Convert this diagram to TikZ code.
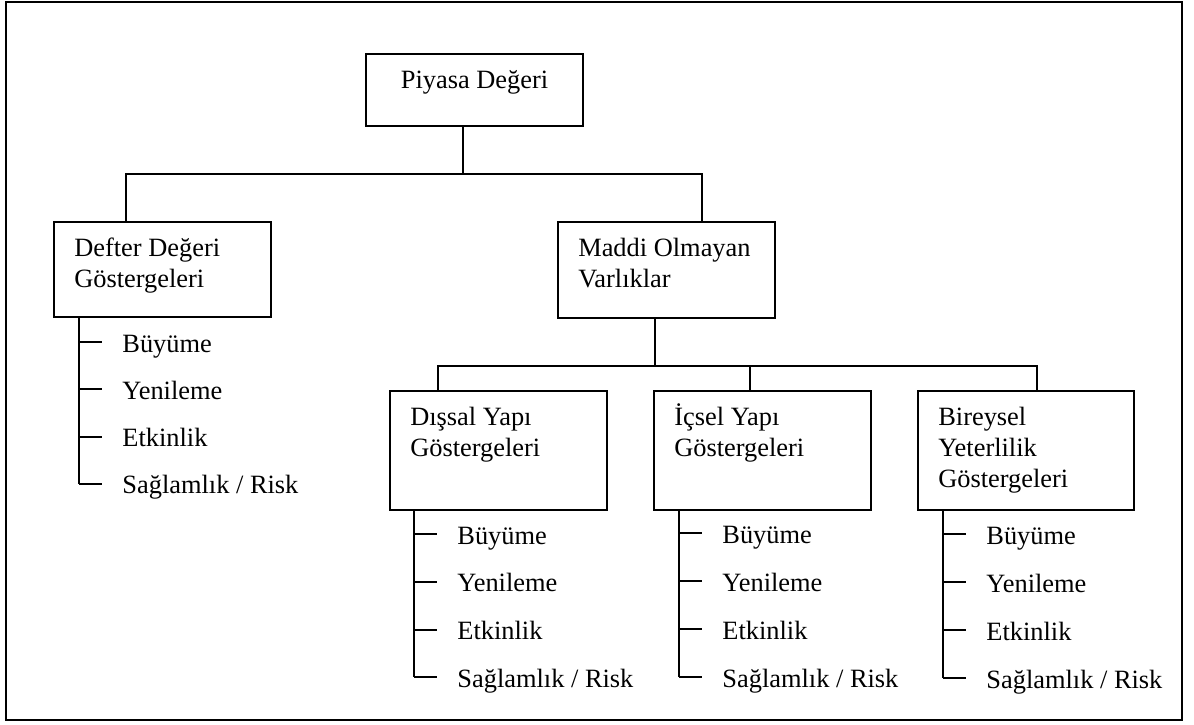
\documentclass[tikz,border=0pt]{standalone}
\usepackage{fontspec}
\setmainfont{Liberation Serif}
\usetikzlibrary{calc}

\begin{document}
\begin{tikzpicture}[
    x=0.5pt, y=-0.5pt,
    every node/.style={font=\fontsize{13.2}{15.5}\selectfont},
    box/.style={draw, line width=1.1pt, inner sep=0pt, minimum width=108.5pt},
    label text/.style={inner sep=0pt, anchor=base west},
    leaf/.style={inner sep=0pt, anchor=base west},
    link/.style={line width=1pt},
    frame/.style={line width=1.2pt}
  ]
  \useasboundingbox (0,0) rectangle (1194,724);
  \draw[frame] (6,2) rectangle (1182,720);

  % boxes
  \node[box, minimum height=36pt] (piy) at (474.5,90) {};
  \node[box, minimum height=47.5pt] (def) at (162.5,269.5) {};
  \node[box, minimum height=48pt] (mad) at (666.5,270) {};
  \node[box, minimum height=59.5pt] (dis) at (498.5,450.5) {};
  \node[box, minimum height=59.5pt] (ics) at (762.5,450.5) {};
  \node[box, minimum height=59.5pt, minimum width=108pt] (bir) at (1026,450.5) {};

  % box captions
  \node[inner sep=0pt, anchor=base] (piy-t) at ($(piy.north)+(0,36)$) {Piyasa Değeri};
  \node[label text] (def-t) at ($(def.north west)+(21,36)$)
    {\begin{tabular}[t]{@{}l@{}}Defter Değeri\\Göstergeleri\end{tabular}};
  \node[label text] (mad-t) at ($(mad.north west)+(21,36)$)
    {\begin{tabular}[t]{@{}l@{}}Maddi Olmayan\\Varlıklar\end{tabular}};
  \node[label text] (dis-t) at ($(dis.north west)+(21,36)$)
    {\begin{tabular}[t]{@{}l@{}}Dışsal Yapı\\Göstergeleri\end{tabular}};
  \node[label text] (ics-t) at ($(ics.north west)+(21,36)$)
    {\begin{tabular}[t]{@{}l@{}}İçsel Yapı\\Göstergeleri\end{tabular}};
  \node[label text] (bir-t) at ($(bir.north west)+(21,36)$)
    {\begin{tabular}[t]{@{}l@{}}Bireysel\\Yeterlilik\\Göstergeleri\end{tabular}};

  % tree connectors
  \coordinate (j1) at (463,174);
  \coordinate (def-in) at ($(def.north west)+(73,0)$);
  \coordinate (mad-in) at ($(mad.north west)+(145,0)$);
  \draw[link] (piy.south -| j1) -- (j1);
  \draw[link] (def-in) |- (j1) -| (mad-in);

  \coordinate (j2) at (655,366);
  \coordinate (dis-in) at ($(dis.north west)+(49,0)$);
  \coordinate (ics-in) at ($(ics.north west)+(97,0)$);
  \coordinate (bir-in) at ($(bir.north west)+(120,0)$);
  \draw[link] (mad.south -| j2) -- (j2);
  \draw[link] (dis-in) |- (j2) -| (bir-in);
  \draw[link] (ics-in) -- (ics-in |- j2);

  % indicator lists hanging under each box
  \foreach \n/\bx/\ty/\st in {def/79/342/47.33, dis/414/534/47.8, ics/679/533/48, bir/943/534/48} {
    \foreach \lbl [count=\i] in {Büyüme, Yenileme, Etkinlik, {Sağlamlık / Risk}} {
      \coordinate (\n-t\i) at (\bx, \ty+\st*\i-\st);
      \coordinate (\n-e\i) at ($(\n-t\i)+(23,0)$);
      \node[leaf] (\n-l\i) at ($(\n-t\i)+(43,10)$) {\lbl};
      \draw[link] (\n-t\i) -- (\n-e\i);
    }
    \draw[link] (\n.south -| \n-t1) -- (\n-t4);
  }
\end{tikzpicture}
\end{document}
